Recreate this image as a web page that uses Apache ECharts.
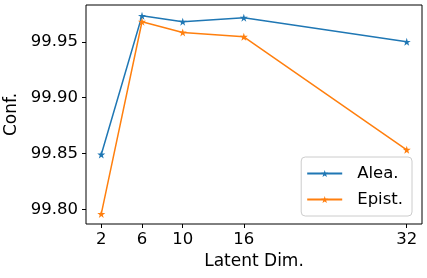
<!DOCTYPE html>
<html><head><meta charset="utf-8">
<script src="https://cdn.jsdelivr.net/npm/echarts@6/dist/echarts.min.js"></script>
<style>html,body{margin:0;padding:0;background:#fff}#c{width:427px;height:278px}</style>
</head><body><div id="c"></div>
<script>
const latentDims = [2, 6, 10, 16, 32];
const aleaValues = [99.849, 99.9733, 99.968, 99.9716, 99.950];
const epistValues = [99.7958, 99.968, 99.9584, 99.9545, 99.8533];
const yTicks = [99.80, 99.85, 99.90, 99.95];
const seriesNames = ['Alea.', 'Epist.'];

const star = 'path://M50,0 L61.2,34.5 L97.6,34.5 L68.2,55.9 L79.4,90.5 L50,69.1 L20.6,90.5 L31.8,55.9 L2.4,34.5 L38.8,34.5 Z';
const font = 'DejaVu Sans';
const pair = (xs, ys) => xs.map((x, i) => [x, ys[i]]);

const chart = echarts.init(document.getElementById('c'), null, {renderer: 'canvas'});
chart.setOption({
  animation: false,
  textStyle: {fontFamily: font},
  grid: {left: 86, right: 5, top: 5, bottom: 54, containLabel: false, outerBoundsMode: 'none',
    show: true, borderColor: '#000', borderWidth: 1, backgroundColor: 'transparent'},
  xAxis: {
    type: 'value', min: 0.5, max: 33.5,
    name: 'Latent Dim.', nameLocation: 'middle', nameGap: 27,
    nameTextStyle: {fontSize: 17, color: '#000', fontFamily: font},
    axisLine: {show: false},
    splitLine: {show: false},
    axisTick: {show: true, length: 4, customValues: latentDims, lineStyle: {color: '#000'}},
    axisLabel: {customValues: latentDims, fontSize: 16.5, color: '#000', margin: 7, fontFamily: font}
  },
  yAxis: {
    type: 'value', min: 99.7868, max: 99.983,
    name: 'Conf.', nameLocation: 'middle', nameGap: 58,
    nameTextStyle: {fontSize: 17, color: '#000', fontFamily: font},
    axisLine: {show: false},
    splitLine: {show: false},
    axisTick: {show: true, length: 4, customValues: yTicks, lineStyle: {color: '#000'}},
    axisLabel: {customValues: yTicks, fontSize: 16.5, color: '#000', margin: 8, fontFamily: font,
      formatter: v => v.toFixed(2)}
  },
  legend: {
    orient: 'vertical', right: 15, top: 157,
    data: seriesNames,
    itemWidth: 35, itemHeight: 9, itemGap: 9,
    padding: [8, 9, 8, 5],
    borderColor: '#cccccc', borderWidth: 1, borderRadius: 4,
    backgroundColor: 'rgba(255,255,255,0.8)',
    textStyle: {fontSize: 16.5, color: '#000', fontFamily: font, lineHeight: 17, padding: [0, 0, 0, 10]}
  },
  series: [
    {name: seriesNames[0], type: 'line', data: pair(latentDims, aleaValues),
     symbol: star, symbolSize: 8, color: '#1f77b4', lineStyle: {width: 1.5}, itemStyle: {color: '#1f77b4'}},
    {name: seriesNames[1], type: 'line', data: pair(latentDims, epistValues),
     symbol: star, symbolSize: 8, color: '#ff7f0e', lineStyle: {width: 1.5}, itemStyle: {color: '#ff7f0e'}}
  ]
});
</script></body></html>
